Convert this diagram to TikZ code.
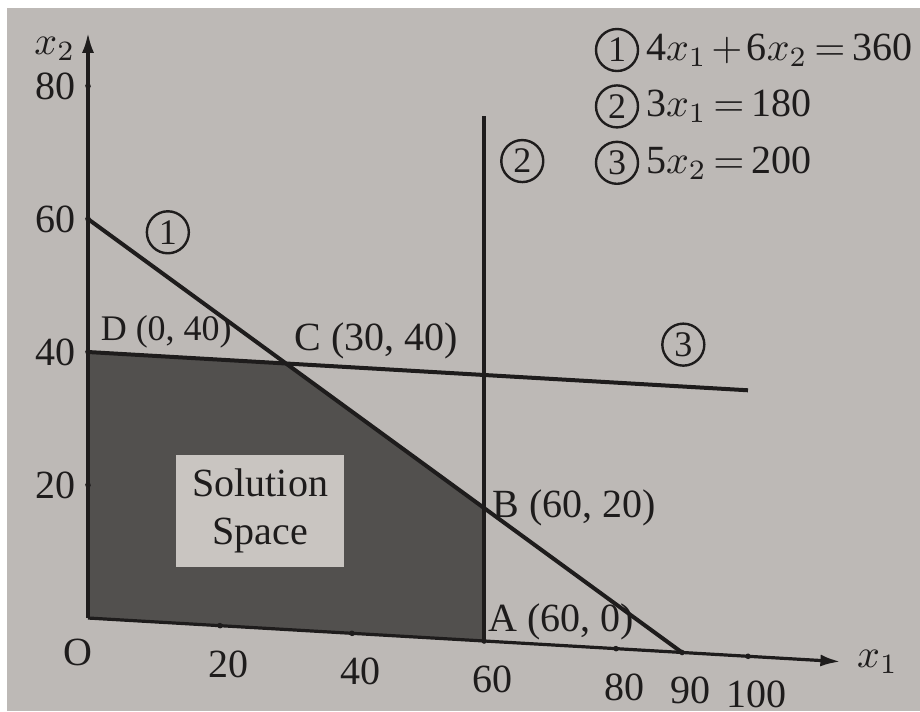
\documentclass[tikz,border=0pt]{standalone}
\usepackage{fontspec}
\setmainfont{Liberation Serif}
\usetikzlibrary{arrows.meta,positioning}
\definecolor{photogrey}{RGB}{189,185,182}
\definecolor{shadegrey}{RGB}{82,80,78}
\definecolor{boxgrey}{RGB}{201,197,193}
\definecolor{inkblack}{RGB}{30,28,28}
\tikzset{
  axis/.style={-{Latex[length=5pt,width=3pt]},line width=0.8pt,draw=inkblack},
  constraint/.style={line width=1pt,draw=inkblack},
  circled/.style={circle,draw=inkblack,line width=0.6pt,inner sep=0pt,
    minimum size=10.5pt,text=inkblack,font=\small},
  ticklabel/.style={text=inkblack,inner sep=1pt},
  cornerlabel/.style={text=inkblack,inner sep=1pt},
  eqlabel/.style={text=inkblack,inner sep=1pt},
  spacebox/.style={fill=boxgrey,text=inkblack,align=center,
    minimum width=42pt,minimum height=28pt,inner sep=2pt}
}

\begin{document}
\begin{tikzpicture}[x=1.65pt,y=1.6625pt]
  \useasboundingbox (-22pt,-23.25pt) rectangle (208pt,154.5pt);
  \fill[white] (-22pt,-23.25pt) rectangle (208pt,154.5pt);
  \fill[photogrey] (-20.25pt,-23.25pt) rectangle (208pt,152.5pt);

  \begin{scope}[yslant=-0.058]
    \coordinate (O) at (0,0);
    \coordinate (A) at (60,0);
    \coordinate (B) at (60,20);
    \coordinate (C) at (30,40);
    \coordinate (D) at (0,40);
    \coordinate (xtip) at (114,0);
    \coordinate (ytip) at (0,88);
    \coordinate (onestart) at (0,60);
    \coordinate (oneend) at (90,0);
    \coordinate (twotop) at (60,79);
    \coordinate (threeend) at (100,40);

    % solution space
    \fill[shadegrey] (O) -- (A) -- (B) -- (C) -- (D) -- cycle;
    \node[spacebox] (space) at (26.1,17.6) {Solution\\Space};

    % constraint lines
    \draw[constraint] (onestart) -- (oneend);
    \draw[constraint] (A) -- (twotop);
    \draw[constraint] (D) -- (threeend);

    % axes
    \draw[axis] (O) -- (xtip);
    \draw[axis] (O) -- (ytip);
    \foreach \t in {20,40,60,80,90,100}{
      \fill[inkblack] (\t,0) circle[radius=0.7pt];
      \node[ticklabel,below=5pt,xshift=2pt] (xlab\t) at (\t,0) {\t};
    }
    \foreach \t in {20,40,60,80}{
      \fill[inkblack] (0,\t) circle[radius=0.7pt];
      \node[ticklabel,left=2pt] (ylab\t) at (0,\t) {\t};
    }
    \node[ticklabel,below=4pt,xshift=-2.5pt] (olab) at (O) {O};
    \node[ticklabel,anchor=north east] (xtwolab) at ([xshift=-2pt]ytip) {$x_2$};
    \node[ticklabel,anchor=west] (xonelab) at ([xshift=3pt]xtip) {$x_1$};

    % line numbers
    \node[circled] (cone) at (12.1,58.7) {1};
    \node[circled] (ctwo) at (65.8,72.5) {2};
    \node[circled] (cthree) at (90.2,46.3) {3};

    % corner points
    \node[cornerlabel,font=\small,anchor=south west] (dlab) at ([xshift=2pt]D) {D (0, 40)};
    \node[cornerlabel,anchor=south west] (clab) at ([xshift=1pt]C) {C (30, 40)};
    \node[cornerlabel,anchor=west] (blab) at ([xshift=1pt]B) {B (60, 20)};
    \node[cornerlabel,anchor=south west] (alab) at ([yshift=-1pt]A) {A (60, 0)};
  \end{scope}

  % legend
  \node[circled] (lgone) at (132.25pt,142pt) {1};
  \node[circled,below=3pt of lgone] (lgtwo) {2};
  \node[circled,below=3pt of lgtwo] (lgthree) {3};
  \node[eqlabel,right=0.5pt of lgone] (eqone)
    {\medmuskip=2mu\thickmuskip=3mu 4$x_1+\mbox{6}x_2=\mbox{360}$};
  \node[eqlabel,right=0.5pt of lgtwo] (eqtwo)
    {\thickmuskip=3mu 3$x_1=\mbox{180}$};
  \node[eqlabel,right=0.5pt of lgthree] (eqthree)
    {\thickmuskip=3mu 5$x_2=\mbox{200}$};
\end{tikzpicture}
\end{document}
